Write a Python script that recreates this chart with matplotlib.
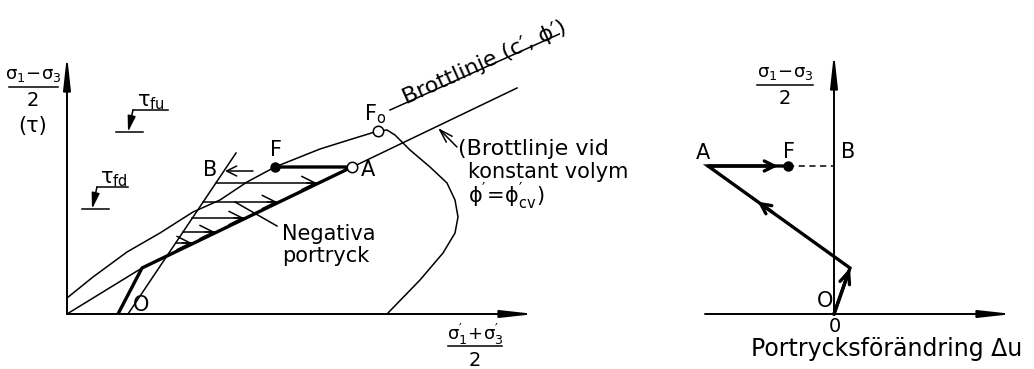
import numpy as np
import matplotlib.pyplot as plt

plt.rcParams['font.family'] = ['DejaVu Sans']
plt.rcParams['mathtext.fontset'] = 'dejavusans'

# Left diagram: stress paths, x = (s1'+s3')/2, y = (s1-s3)/2, origin at axis corner
curve_p = [0, 26, 60, 93, 126, 153, 180, 208, 253, 285, 311,
           320, 328, 343, 363, 380, 388, 391, 388, 376, 353, 320]
curve_q = [16, 37, 62, 81, 102, 114, 132, 147, 165, 175, 183,
           184, 179, 164, 147, 131, 114, 97, 81, 61, 34, 0]
cv_line_p = [0, 75, 450]          # failure line at constant volume
cv_line_q = [0, 46, 226]
drained_p = [51, 75, 285, 208]    # O -> kink -> A -> F
drained_q = [0, 46, 147, 147]
b_line_p = [61, 169]
b_line_q = [0, 161]
hatch_q = [131, 112, 96, 82, 71]  # negative pore pressure levels
failure_p = [323, 508]            # failure line (c', phi')
failure_q = [204, 287]
F_left = (208, 147)
A_left = (285, 147)
F0_left = (311, 183)

# Right diagram: pore pressure change du vs deviator stress
du_path = [0, 16, -126, -46]      # O -> kink -> A -> F
dq_path = [0, 46, 148, 148]

THIN = 1.1
THICK = 2.4


def arrow(ax, start, end, lw=THIN, style='->', hl=0.6, hw=0.3, ms=12):
    ax.annotate('', xy=end, xytext=start,
                arrowprops=dict(arrowstyle=f'{style},head_length={hl},head_width={hw}',
                                lw=lw, color='k', shrinkA=0, shrinkB=0,
                                mutation_scale=ms))


def axis_arrow(ax, start, end):
    arrow(ax, start, end, lw=1.4, style='-|>', hl=2.0, hw=0.22, ms=10)


def fraction(ax, x, y, top, width, size=13):
    ax.text(x, y + 12, top, ha='center', va='center', fontsize=size)
    ax.plot([x - width / 2, x + width / 2], [y, y], color='k', lw=1.1)
    ax.text(x, y - 14, '2', ha='center', va='center', fontsize=size + 1)


fig = plt.figure(figsize=(10.34, 3.69), dpi=100)

# ---- left diagram ----
ax = fig.add_axes([0, 0, 560 / 1034, 1])
ax.set_xlim(-67, 493)
ax.set_ylim(-55, 314)
ax.axis('off')

axis_arrow(ax, (0, 0), (468, 0))
axis_arrow(ax, (0, 0), (0, 259))

ax.plot(curve_p, curve_q, color='k', lw=THIN)
ax.plot(cv_line_p, cv_line_q, color='k', lw=THIN)
ax.plot(b_line_p, b_line_q, color='k', lw=THIN)
ax.plot(failure_p, failure_q, color='k', lw=THIN)
ax.plot(drained_p, drained_q, color='k', lw=THICK, solid_capstyle='butt')

# hatching between line B and the effective stress path
left_ends = np.interp(hatch_q, b_line_q, b_line_p)
right_ends = np.interp(hatch_q, drained_q[1:3], drained_p[1:3])
for q, x0, x1 in zip(hatch_q, left_ends, right_ends):
    ax.plot([x0, x1], [q, q], color='k', lw=THIN)
    arrow(ax, (x1 - 12, q), (x1 - 2, q), lw=THIN, hl=0.8, hw=0.4)

arrow(ax, (F_left[0] - 22, F_left[1] - 4), (F_left[0] - 50, F_left[1] - 4))

ax.plot(*F_left, 'o', color='k', ms=6.5)
ax.plot(*A_left, 'o', mfc='white', mec='k', mew=1.1, ms=7.5)
ax.plot(*F0_left, 'o', mfc='white', mec='k', mew=1.1, ms=7.5)

ax.text(143, 144, 'B', ha='center', va='center', fontsize=15)
ax.text(209, 164, 'F', ha='center', va='center', fontsize=15)
ax.text(301, 144, 'A', ha='center', va='center', fontsize=15)
ax.text(308, 200, r'F$_\mathregular{o}$', ha='center', va='center', fontsize=15)
ax.text(74, 9, 'O', ha='center', va='center', fontsize=15)

ax.text(339, 210, 'Brottlinje (c′, ϕ′)', rotation=24.2, rotation_mode='anchor',
        ha='left', va='baseline', fontsize=16)

ax.text(391, 159, '(Brottlinje vid', ha='left', va='baseline', fontsize=16)
ax.text(401, 136, 'konstant volym', ha='left', va='baseline', fontsize=15)
ax.text(401, 111, r"$\mathregular{\phi^{\prime}\!=\!\phi^{\prime}_{cv}}$)",
        ha='left', va='baseline', fontsize=15)
arrow(ax, (390, 167), (371, 186), lw=THIN, hl=0.8, hw=0.25)

ax.text(215, 74, 'Negativa', ha='left', va='baseline', fontsize=15)
ax.text(215, 52, 'portryck', ha='left', va='baseline', fontsize=15)
ax.plot([210, 168], [88, 112], color='k', lw=THIN)

# tau level markers
for tx, ty, lab, x0, x1, xs in [(70, 208, r'$\mathregular{\tau_{fu}}$', 66, 101, 49),
                                (33, 131, r'$\mathregular{\tau_{fd}}$', 30, 61, 15)]:
    ax.text(tx, ty, lab, ha='left', va='baseline', fontsize=15)
    ax.plot([x0, x1], [ty - 4, ty - 4], color='k', lw=THIN)
    arrow(ax, (x0, ty - 4), (x0 - 5, ty - 26), lw=THIN, style='-|>', hl=0.8, hw=0.2)
    ax.plot([xs, xs + 27], [ty - 26, ty - 26], color='k', lw=THIN)

fraction(ax, -34, 227, r'$\mathregular{\sigma_1\!-\!\sigma_3}$', 49)
ax.text(-34, 188, '(τ)', ha='center', va='center', fontsize=15)
fraction(ax, 408, -32, r"$\mathregular{\sigma^{\prime}_1\!+\!\sigma^{\prime}_3}$", 54)

# ---- right diagram ----
ax2 = fig.add_axes([560 / 1034, 0, 474 / 1034, 1])
ax2.set_xlim(-274, 200)
ax2.set_ylim(-55, 314)
ax2.axis('off')

axis_arrow(ax2, (-129, 0), (179, 0))
axis_arrow(ax2, (0, 0), (0, 261))

ax2.plot(du_path, dq_path, color='k', lw=THICK, solid_joinstyle='miter')
arrow(ax2, (du_path[0], dq_path[0]), (du_path[1], dq_path[1]), lw=THICK, hl=0.7, hw=0.3)
mid0 = np.array([du_path[1], dq_path[1]]) * 0.45 + np.array([du_path[2], dq_path[2]]) * 0.55
mid1 = np.array([du_path[1], dq_path[1]]) * 0.35 + np.array([du_path[2], dq_path[2]]) * 0.65
arrow(ax2, tuple(mid0), tuple(mid1), lw=THICK, hl=0.6, hw=0.3)
arrow(ax2, (du_path[2], dq_path[2]), (du_path[3] - 10, dq_path[3]), lw=THICK, hl=0.6, hw=0.3)
ax2.plot([du_path[3], 0], [dq_path[3], dq_path[3]], color='k', lw=THIN, ls=(0, (4, 3)))
ax2.plot(du_path[3], dq_path[3], 'o', color='k', ms=6.5)

ax2.text(-131, 161, 'A', ha='center', va='center', fontsize=15)
ax2.text(-45, 162, 'F', ha='center', va='center', fontsize=15)
ax2.text(14, 162, 'B', ha='center', va='center', fontsize=15)
ax2.text(-9, 13, 'O', ha='center', va='center', fontsize=15)
ax2.text(1, -18, '0', ha='center', va='baseline', fontsize=14)
ax2.text(53, -42, 'Portrycksförändring Δu', ha='center', va='baseline', fontsize=17)
fraction(ax2, -49, 229, r'$\mathregular{\sigma_1\!-\!\sigma_3}$', 56)

fig.savefig('out.png', dpi=100, facecolor='white')
